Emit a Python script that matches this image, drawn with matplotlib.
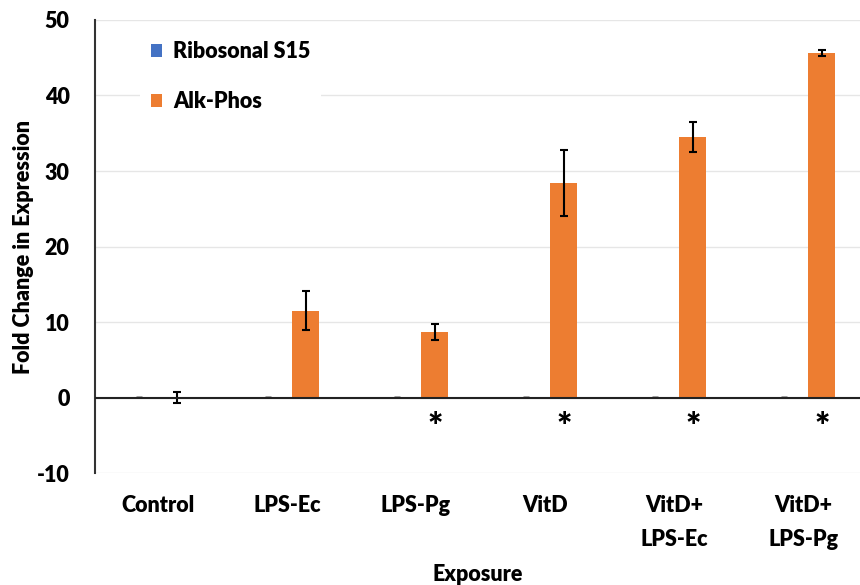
import matplotlib.pyplot as plt
import numpy as np

exposures = ['Control', 'LPS-Ec', 'LPS-Pg', 'VitD', 'VitD+\nLPS-Ec', 'VitD+\nLPS-Pg']
s15 = [0.1, 0.1, 0.1, 0.1, 0.1, 0.1]
s15_err = [0.0, 0.0, 0.0, 0.0, 0.0, 0.0]
alk_phos = [0.0, 11.5, 8.7, 28.4, 34.5, 45.6]
alk_err = [0.7, 2.6, 1.0, 4.4, 2.0, 0.4]
significant = [False, False, True, True, True, True]

plt.rcParams['font.family'] = ['Lato', 'DejaVu Sans']
plt.rcParams['font.weight'] = 'heavy'
plt.rcParams['axes.labelweight'] = 'heavy'
plt.rcParams['axes.unicode_minus'] = False

fig = plt.figure(figsize=(8.6, 5.85), dpi=100)
ax = fig.add_axes([0.11, 0.191, 0.89, 0.775])

x = np.arange(len(exposures))
ancho = 0.21
sep = 0.145

ax.bar(x - sep, s15, ancho, yerr=s15_err, color='#4472c4', label='Ribosonal S15',
       error_kw=dict(ecolor='black', lw=1.2, capsize=2), zorder=3)
ax.bar(x + sep, alk_phos, ancho, yerr=alk_err, color='#ed7d31', label='Alk-Phos',
       error_kw=dict(ecolor='black', lw=1.5, capsize=3, capthick=1.5), zorder=3)

# asteriscos de significancia bajo las barras
for i, sig in enumerate(significant):
    if sig:
        ax.text(x[i] + sep, -4, '*', ha='center', va='center', fontsize=26)

ax.axhline(0, color='#222222', lw=1.5, zorder=4)
ax.set_ylim(-10, 50)
ax.set_xlim(-0.49, 5.44)
ax.set_yticks(range(-10, 51, 10))
ax.yaxis.grid(True, color='#e6e6e6', lw=1)
ax.set_axisbelow(True)

for lado in ['top', 'right', 'bottom']:
    ax.spines[lado].set_visible(False)
ax.spines['left'].set_color('#333333')
ax.spines['left'].set_linewidth(1.5)

ax.set_xticks(x)
ax.set_xticklabels(exposures, fontsize=15.5, linespacing=1.75, va='top')
ax.tick_params(axis='x', length=0, pad=16)
ax.tick_params(axis='y', length=0, labelsize=15.5, pad=18)

ax.set_ylabel('Fold Change in Expression', fontsize=15.5, labelpad=2)
ax.set_xlabel('Exposure', fontsize=15.5, labelpad=10)

leg = ax.legend(loc='upper left', bbox_to_anchor=(0.045, 1.0), frameon=True, fontsize=15.5,
                handlelength=0.55, handleheight=0.55, handletextpad=0.5,
                labelspacing=1.35, borderpad=0.5)
leg.get_frame().set_edgecolor('none')
leg.get_frame().set_facecolor('white')
leg.get_frame().set_alpha(1)

plt.savefig('out.png', dpi=100)
